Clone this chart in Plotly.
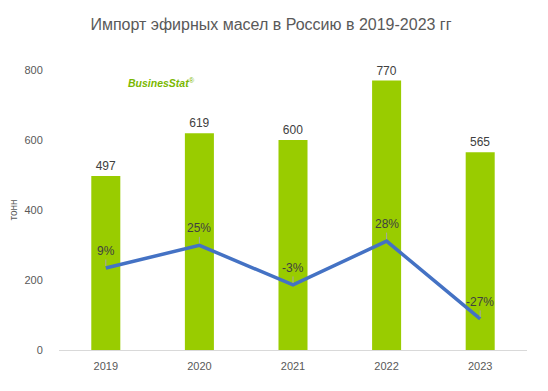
import plotly.graph_objects as go

years = ["2019", "2020", "2021", "2022", "2023"]
tons = [497, 619, 600, 770, 565]
growth = [9, 25, -3, 28, -27]
growth_labels = ["9%", "25%", "-3%", "28%", "-27%"]

FONT = "Liberation Sans"
GRAY = "#595959"

fig = go.Figure()
fig.add_trace(go.Bar(
    x=years, y=tons, marker_color="#99cc00", marker_line_width=0,
    text=[str(v) for v in tons], textposition="outside",
    textfont=dict(family=FONT, size=12, color="#404040"),
    cliponaxis=False, yaxis="y",
))
fig.add_trace(go.Scatter(
    x=years, y=growth, mode="lines", line=dict(color="#4472c4", width=3.5),
    yaxis="y2",
))
for i, (g, lab) in enumerate(zip(growth, growth_labels)):
    fig.add_annotation(
        x=i, y=g, xref="x", yref="y2", text=lab, showarrow=True, arrowhead=0,
        arrowwidth=1, arrowcolor="#a6a6a6", ax=0, ay=-17, standoff=2,
        font=dict(family=FONT, size=12, color="#404040"),
    )

fig.add_annotation(
    x=(161 - 59) / 468, y=(350 - 83) / 280, xref="paper", yref="paper",
    xanchor="center", yanchor="middle", showarrow=False,
    text="<b><i>BusinesStat</i></b><sup>®</sup>",
    font=dict(family=FONT, size=10.5, color="#7ab800"),
)

# page body has an 8px offset; compensate so plot area sits at x 59-527, y 70-350
fig.update_layout(
    width=540, height=383,
    margin=dict(l=51, r=21, t=62, b=41, autoexpand=False),
    paper_bgcolor="white", plot_bgcolor="white",
    showlegend=False, bargap=0.69,
    title=dict(text="Импорт эфирных масел в Россию в 2019-2023 гг", x=0.487, xanchor="center",
               xref="container", yref="container",
               y=0.956, yanchor="middle",
               font=dict(family=FONT, size=16, color=GRAY)),
    xaxis=dict(type="category", range=[-0.5, 4.5], showgrid=False, showline=True,
               linecolor="#d9d9d9", linewidth=1, automargin=False,
               ticks="outside", ticklen=6, tickcolor="rgba(0,0,0,0)",
               tickfont=dict(family=FONT, size=11, color=GRAY)),
    yaxis=dict(range=[0, 800], dtick=200, showgrid=False, zeroline=False, automargin=False,
               ticks="outside", ticklen=13, tickcolor="rgba(0,0,0,0)",
               tickfont=dict(family=FONT, size=11, color=GRAY),
               title=dict(text="тонн", font=dict(family=FONT, size=10, color=GRAY), standoff=14)),
    yaxis2=dict(range=[-49, 149], overlaying="y", visible=False),
)
fig.write_html("out.html")
